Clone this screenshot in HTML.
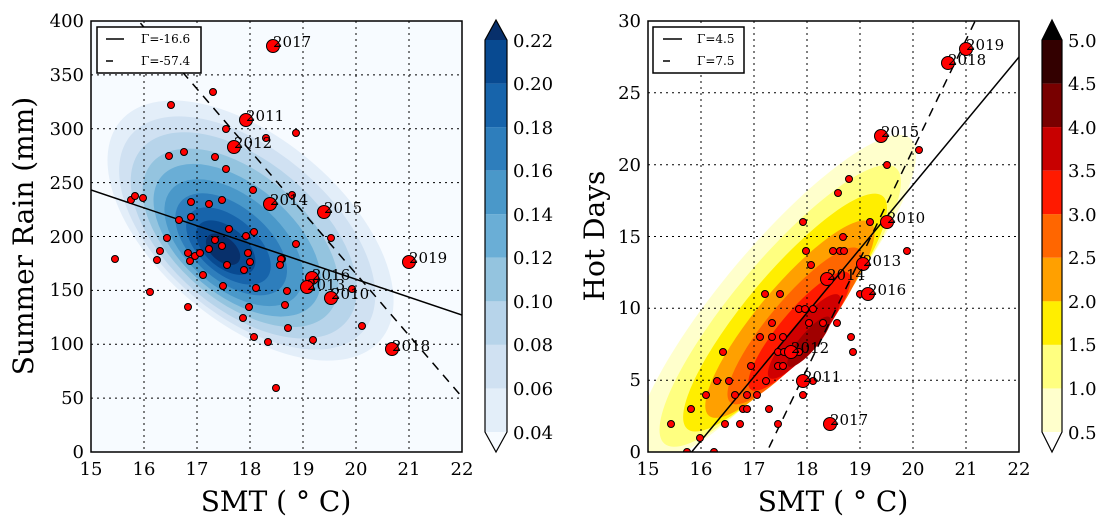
<!DOCTYPE html>
<html><head><meta charset="utf-8"><style>
body{margin:0;background:#fff;}
svg{display:block;font-family:"DejaVu Serif","Liberation Serif",serif;}
</style></head><body>
<svg width="1110" height="530" viewBox="0 0 1110 530" xmlns="http://www.w3.org/2000/svg">
<defs>
<clipPath id="cl"><rect x="91" y="21" width="371" height="431"/></clipPath>
<clipPath id="cr"><rect x="648" y="21" width="371" height="431"/></clipPath>
</defs>
<!-- LEFT -->
<rect x="91" y="21" width="371" height="431" fill="#f7fbff"/>
<g clip-path="url(#cl)">
<g transform="rotate(40 240 240)">
<ellipse cx="242" cy="226" rx="170" ry="92" fill="#e3eef9"/>
<ellipse cx="241" cy="230" rx="152" ry="83" fill="#d0e1f2"/>
<ellipse cx="240" cy="234" rx="134" ry="74" fill="#b7d4ea"/>
<ellipse cx="239" cy="238" rx="116" ry="64" fill="#94c4df"/>
<ellipse cx="238" cy="242" rx="99" ry="55" fill="#6aaed6"/>
<ellipse cx="237" cy="246" rx="82" ry="46" fill="#4a98c9"/>
<ellipse cx="236" cy="249" rx="66" ry="37" fill="#2e7ebc"/>
<ellipse cx="235" cy="252" rx="50" ry="28" fill="#1764ab"/>
<ellipse cx="234" cy="255" rx="35" ry="20" fill="#084a91"/>
<ellipse cx="233" cy="258" rx="20" ry="12" fill="#08306b"/>
</g>
<g stroke="#000" stroke-width="1" stroke-dasharray="2,4" fill="none">
<path d="M144 21V452M197 21V452M250 21V452M303 21V452M356 21V452M409 21V452"/>
<path d="M91 398.1H462M91 344.2H462M91 290.4H462M91 236.5H462M91 182.6H462M91 128.8H462M91 74.9H462"/>
</g>
<line x1="91" y1="190" x2="462" y2="315" stroke="#000" stroke-width="1.5"/>
<line x1="130" y1="11" x2="462" y2="397" stroke="#000" stroke-width="1.5" stroke-dasharray="9,7"/>
<g fill="#f00" stroke="#000" stroke-width="1">
<circle cx="171" cy="105" r="3.5"/><circle cx="213" cy="92" r="3.5"/><circle cx="226" cy="129" r="3.5"/><circle cx="296" cy="133" r="3.5"/><circle cx="266" cy="138" r="3.5"/><circle cx="169" cy="156" r="3.5"/><circle cx="184" cy="152" r="3.5"/><circle cx="215" cy="157" r="3.5"/><circle cx="226" cy="169" r="3.5"/><circle cx="253" cy="190" r="3.5"/><circle cx="292" cy="195" r="3.5"/><circle cx="131" cy="200" r="3.5"/><circle cx="135" cy="196" r="3.5"/><circle cx="143" cy="198" r="3.5"/><circle cx="191" cy="202" r="3.5"/><circle cx="209" cy="204" r="3.5"/><circle cx="222" cy="200" r="3.5"/><circle cx="179" cy="220" r="3.5"/><circle cx="191" cy="217" r="3.5"/><circle cx="229" cy="229" r="3.5"/><circle cx="254" cy="232" r="3.5"/><circle cx="246" cy="236" r="3.5"/><circle cx="331" cy="238" r="3.5"/><circle cx="296" cy="244" r="3.5"/><circle cx="167" cy="238" r="3.5"/><circle cx="215" cy="240" r="3.5"/><circle cx="222" cy="246" r="3.5"/><circle cx="209" cy="249" r="3.5"/><circle cx="160" cy="251" r="3.5"/><circle cx="188" cy="253" r="3.5"/><circle cx="195" cy="256" r="3.5"/><circle cx="200" cy="253" r="3.5"/><circle cx="248" cy="253" r="3.5"/><circle cx="115" cy="259" r="3.5"/><circle cx="157" cy="260" r="3.5"/><circle cx="282" cy="259" r="3.5"/><circle cx="190" cy="261" r="3.5"/><circle cx="250" cy="262" r="3.5"/><circle cx="227" cy="265" r="3.5"/><circle cx="244" cy="270" r="3.5"/><circle cx="203" cy="275" r="3.5"/><circle cx="223" cy="286" r="3.5"/><circle cx="256" cy="288" r="3.5"/><circle cx="150" cy="292" r="3.5"/><circle cx="188" cy="307" r="3.5"/><circle cx="249" cy="307" r="3.5"/><circle cx="243" cy="318" r="3.5"/><circle cx="287" cy="291" r="3.5"/><circle cx="285" cy="305" r="3.5"/><circle cx="288" cy="328" r="3.5"/><circle cx="254" cy="337" r="3.5"/><circle cx="268" cy="342" r="3.5"/><circle cx="313" cy="340" r="3.5"/><circle cx="362" cy="326" r="3.5"/><circle cx="276" cy="388" r="3.5"/><circle cx="352" cy="289" r="3.5"/><circle cx="281" cy="259" r="3.5"/><circle cx="280" cy="265" r="3.5"/>
<circle cx="273" cy="46" r="6.5"/><circle cx="246" cy="120" r="6.5"/><circle cx="234" cy="147" r="6.5"/><circle cx="270" cy="204" r="6.5"/><circle cx="324" cy="212" r="6.5"/><circle cx="409" cy="262" r="6.5"/><circle cx="312" cy="278" r="6.5"/><circle cx="307" cy="287" r="6.5"/><circle cx="331" cy="298" r="6.5"/><circle cx="392" cy="349" r="6.5"/>
</g>
<g font-size="15" fill="#000">
<text x="273" y="47">2017</text><text x="246" y="121">2011</text><text x="234" y="148">2012</text><text x="270" y="205">2014</text><text x="324" y="213">2015</text><text x="409" y="263">2019</text><text x="312" y="280">2016</text><text x="307" y="290">2013</text><text x="331" y="299">2010</text><text x="392" y="351">2018</text>
</g>
</g>
<rect x="97" y="27" width="104" height="46" fill="#fff" stroke="#000" stroke-width="1.5"/>
<line x1="106" y1="39" x2="124" y2="39" stroke="#000" stroke-width="1.5"/>
<line x1="106" y1="61" x2="113" y2="61" stroke="#000" stroke-width="1.5"/>
<g font-size="12"><text x="141" y="43">Γ=-16.6</text><text x="141" y="65">Γ=-57.4</text></g>
<rect x="91" y="21" width="371" height="431" fill="none" stroke="#000" stroke-width="1.5"/>
<g font-size="18" text-anchor="end">
<text x="84" y="458">0</text><text x="84" y="404">50</text><text x="84" y="350">100</text><text x="84" y="296">150</text><text x="84" y="243">200</text><text x="84" y="189">250</text><text x="84" y="135">300</text><text x="84" y="81">350</text><text x="84" y="27">400</text>
</g>
<g font-size="18" text-anchor="middle">
<text x="91" y="475">15</text><text x="144" y="475">16</text><text x="197" y="475">17</text><text x="250" y="475">18</text><text x="303" y="475">19</text><text x="356" y="475">20</text><text x="409" y="475">21</text><text x="462" y="475">22</text>
</g>
<text x="276" y="511" font-size="28" text-anchor="middle">SMT ( ° C)</text>
<text transform="translate(33 236) rotate(-90)" font-size="28" text-anchor="middle">Summer Rain (mm)</text>
<!-- left colorbar -->
<g stroke="none">
<polygon points="485,40 496,20 507,40" fill="#08306b"/>
<rect x="485" y="40" width="22" height="43.6" fill="#084a91"/>
<rect x="485" y="83.6" width="22" height="43.6" fill="#1764ab"/>
<rect x="485" y="127.1" width="22" height="43.6" fill="#2e7ebc"/>
<rect x="485" y="170.7" width="22" height="43.6" fill="#4a98c9"/>
<rect x="485" y="214.2" width="22" height="43.6" fill="#6aaed6"/>
<rect x="485" y="257.8" width="22" height="43.6" fill="#94c4df"/>
<rect x="485" y="301.3" width="22" height="43.6" fill="#b7d4ea"/>
<rect x="485" y="344.9" width="22" height="43.6" fill="#d0e1f2"/>
<rect x="485" y="388.4" width="22" height="43.6" fill="#e3eef9"/>
<polygon points="485,432 496,452 507,432" fill="#f7fbff"/>
</g>
<polygon points="485,40 496,20 507,40 507,432 496,452 485,432" fill="none" stroke="#000" stroke-width="1.2"/>
<g font-size="18">
<text x="513" y="47">0.22</text><text x="513" y="90">0.20</text><text x="513" y="134">0.18</text><text x="513" y="177">0.16</text><text x="513" y="221">0.14</text><text x="513" y="264">0.12</text><text x="513" y="308">0.10</text><text x="513" y="351">0.08</text><text x="513" y="395">0.06</text><text x="513" y="439">0.04</text>
</g>

<!-- RIGHT -->
<rect x="648" y="21" width="371" height="431" fill="#fff"/>
<g clip-path="url(#cr)">
<g transform="rotate(-50 782 310)">
<ellipse cx="786" cy="298" rx="210" ry="52" fill="#ffffcc"/>
<ellipse cx="784" cy="306" rx="180" ry="45" fill="#ffff80"/>
<ellipse cx="782" cy="314" rx="152" ry="38" fill="#ffee00"/>
<ellipse cx="780" cy="322" rx="126" ry="32" fill="#ffa000"/>
<ellipse cx="778" cy="330" rx="100" ry="26" fill="#ff6600"/>
<ellipse cx="777" cy="337" rx="76" ry="20" fill="#ff1a00"/>
<ellipse cx="776" cy="344" rx="54" ry="14" fill="#d00000"/>
<ellipse cx="775" cy="351" rx="32" ry="9" fill="#a00000"/>
</g>
<g stroke="#000" stroke-width="1" stroke-dasharray="2,4" fill="none">
<path d="M701 21V452M754 21V452M807 21V452M860 21V452M913 21V452M966 21V452"/>
<path d="M648 380.2H1019M648 308.3H1019M648 236.5H1019M648 164.7H1019M648 92.8H1019"/>
</g>
<line x1="685" y1="460" x2="1019" y2="57" stroke="#000" stroke-width="1.5"/>
<line x1="762" y1="462" x2="980" y2="11" stroke="#000" stroke-width="1.5" stroke-dasharray="9,7"/>
<g fill="#f00" stroke="#000" stroke-width="1">
<circle cx="803" cy="222" r="3.5"/><circle cx="870" cy="222" r="3.5"/><circle cx="843" cy="237" r="3.5"/><circle cx="806" cy="251" r="3.5"/><circle cx="833" cy="251" r="3.5"/><circle cx="840" cy="251" r="3.5"/><circle cx="844" cy="251" r="3.5"/><circle cx="907" cy="251" r="3.5"/><circle cx="811" cy="265" r="3.5"/><circle cx="765" cy="294" r="3.5"/><circle cx="780" cy="294" r="3.5"/><circle cx="860" cy="294" r="3.5"/><circle cx="799" cy="309" r="3.5"/><circle cx="805" cy="309" r="3.5"/><circle cx="813" cy="309" r="3.5"/><circle cx="772" cy="323" r="3.5"/><circle cx="809" cy="323" r="3.5"/><circle cx="823" cy="323" r="3.5"/><circle cx="837" cy="323" r="3.5"/><circle cx="760" cy="337" r="3.5"/><circle cx="772" cy="337" r="3.5"/><circle cx="783" cy="337" r="3.5"/><circle cx="851" cy="337" r="3.5"/><circle cx="723" cy="352" r="3.5"/><circle cx="778" cy="352" r="3.5"/><circle cx="784" cy="352" r="3.5"/><circle cx="799" cy="352" r="3.5"/><circle cx="853" cy="352" r="3.5"/><circle cx="751" cy="366" r="3.5"/><circle cx="778" cy="366" r="3.5"/><circle cx="783" cy="366" r="3.5"/><circle cx="717" cy="381" r="3.5"/><circle cx="729" cy="381" r="3.5"/><circle cx="766" cy="381" r="3.5"/><circle cx="813" cy="381" r="3.5"/><circle cx="706" cy="395" r="3.5"/><circle cx="735" cy="395" r="3.5"/><circle cx="747" cy="395" r="3.5"/><circle cx="757" cy="395" r="3.5"/><circle cx="803" cy="395" r="3.5"/><circle cx="691" cy="409" r="3.5"/><circle cx="743" cy="409" r="3.5"/><circle cx="747" cy="409" r="3.5"/><circle cx="769" cy="409" r="3.5"/><circle cx="671" cy="424" r="3.5"/><circle cx="725" cy="424" r="3.5"/><circle cx="740" cy="424" r="3.5"/><circle cx="778" cy="424" r="3.5"/><circle cx="700" cy="438" r="3.5"/><circle cx="687" cy="452" r="3.5"/><circle cx="714" cy="452" r="3.5"/><circle cx="838" cy="193" r="3.5"/><circle cx="849" cy="179" r="3.5"/><circle cx="887" cy="165" r="3.5"/><circle cx="919" cy="150" r="3.5"/>
<circle cx="887" cy="222" r="6.5"/><circle cx="863" cy="264" r="6.5"/><circle cx="827" cy="279" r="6.5"/><circle cx="868" cy="294" r="6.5"/><circle cx="791" cy="352" r="6.5"/><circle cx="803" cy="381" r="6.5"/><circle cx="830" cy="424" r="6.5"/><circle cx="881" cy="136" r="6.5"/><circle cx="948" cy="63" r="6.5"/><circle cx="966" cy="49" r="6.5"/>
</g>
<g font-size="15" fill="#000">
<text x="887" y="223">2010</text><text x="863" y="266">2013</text><text x="827" y="280">2014</text><text x="868" y="295">2016</text><text x="791" y="353">2012</text><text x="803" y="382">2011</text><text x="830" y="425">2017</text><text x="881" y="137">2015</text><text x="948" y="65">2018</text><text x="966" y="50">2019</text>
</g>
</g>
<rect x="653" y="27" width="91" height="46" fill="#fff" stroke="#000" stroke-width="1.5"/>
<line x1="663" y1="39" x2="682" y2="39" stroke="#000" stroke-width="1.5"/>
<line x1="663" y1="61" x2="670" y2="61" stroke="#000" stroke-width="1.5"/>
<g font-size="12"><text x="697" y="43">Γ=4.5</text><text x="697" y="65">Γ=7.5</text></g>
<rect x="648" y="21" width="371" height="431" fill="none" stroke="#000" stroke-width="1.5"/>
<g font-size="18" text-anchor="end">
<text x="641" y="458">0</text><text x="641" y="386">5</text><text x="641" y="314">10</text><text x="641" y="243">15</text><text x="641" y="171">20</text><text x="641" y="99">25</text><text x="641" y="27">30</text>
</g>
<g font-size="18" text-anchor="middle">
<text x="648" y="475">15</text><text x="701" y="475">16</text><text x="754" y="475">17</text><text x="807" y="475">18</text><text x="860" y="475">19</text><text x="913" y="475">20</text><text x="966" y="475">21</text><text x="1019" y="475">22</text>
</g>
<text x="833" y="511" font-size="28" text-anchor="middle">SMT ( ° C)</text>
<text transform="translate(604 236) rotate(-90)" font-size="28" text-anchor="middle">Hot Days</text>
<!-- right colorbar -->
<g stroke="none">
<polygon points="1042,40 1052,20 1062,40" fill="#000"/>
<rect x="1042" y="40" width="20" height="43.6" fill="#330000"/>
<rect x="1042" y="83.6" width="20" height="43.6" fill="#780000"/>
<rect x="1042" y="127.1" width="20" height="43.6" fill="#c80000"/>
<rect x="1042" y="170.7" width="20" height="43.6" fill="#ff1a00"/>
<rect x="1042" y="214.2" width="20" height="43.6" fill="#ff6600"/>
<rect x="1042" y="257.8" width="20" height="43.6" fill="#ffa000"/>
<rect x="1042" y="301.3" width="20" height="43.6" fill="#ffee00"/>
<rect x="1042" y="344.9" width="20" height="43.6" fill="#ffff80"/>
<rect x="1042" y="388.4" width="20" height="43.6" fill="#ffffcc"/>
<polygon points="1042,432 1052,452 1062,432" fill="#fff"/>
</g>
<polygon points="1042,40 1052,20 1062,40 1062,432 1052,452 1042,432" fill="none" stroke="#000" stroke-width="1.2"/>
<g font-size="18">
<text x="1068" y="47">5.0</text><text x="1068" y="90">4.5</text><text x="1068" y="134">4.0</text><text x="1068" y="177">3.5</text><text x="1068" y="221">3.0</text><text x="1068" y="264">2.5</text><text x="1068" y="308">2.0</text><text x="1068" y="351">1.5</text><text x="1068" y="395">1.0</text><text x="1068" y="439">0.5</text>
</g>
</svg>
</body></html>
